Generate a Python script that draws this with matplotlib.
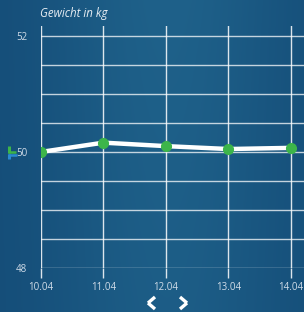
import numpy as np
import matplotlib
matplotlib.use("Agg")
import matplotlib.pyplot as plt
from matplotlib.lines import Line2D

categories = ["10.04", "11.04", "12.04", "13.04", "14.04"]
weights = [50.0, 50.16, 50.10, 50.05, 50.07]
y_ticks = [48, 50, 52]
y_grid = [48, 48.5, 49, 49.5, 50, 50.5, 51, 51.5, 52]
title = "Gewicht in kg"

plt.rcParams['font.family'] = ['Open Sans', 'DejaVu Sans']

W, H = 304, 312
fig = plt.figure(figsize=(W / 100, H / 100), dpi=100)

# background gradient
bg = fig.add_axes([0, 0, 1, 1], zorder=-10)
xs = np.linspace(0, 1, 200)
ys = np.linspace(0, 1, 200)
X, Y = np.meshgrid(xs, ys)
c_dark = np.array([0.08, 0.30, 0.47])
c_light = np.array([0.12, 0.38, 0.54])
t = np.exp(-((X - 0.55) ** 2) / 0.15) * (0.8 + 0.2 * (1 - Y))
img = c_dark[None, None, :] + (c_light - c_dark)[None, None, :] * t[:, :, None]
bg.imshow(img, extent=[0, 1, 0, 1], aspect='auto', origin='upper')
bg.set_axis_off()

ax = fig.add_axes([41 / W, 44 / H, 1 - 41 / W, (268 - 26) / H])
ax.patch.set_alpha(0)
x = np.arange(len(categories))
ax.set_xlim(0, 4.21)
ax.set_ylim(48, 52.17)

for yy in y_grid:
    ax.axhline(yy, color='white', alpha=0.75, lw=1.0, zorder=1)
for xx in x:
    ax.axvline(xx, color='white', alpha=0.85, lw=1.0, zorder=1)

ax.plot(x, weights, color='white', lw=3.2, zorder=3, solid_capstyle='round')
ax.plot(x, weights, 'o', color='#3db54a', ms=7, mec='#3db54a', zorder=4)

ax.set_xticks(x)
ax.set_xticklabels(categories, color='#d0dce8', fontsize=7)
ax.set_yticks(y_ticks)
ax.set_yticklabels([str(v) for v in y_ticks], color='#d0dce8', fontsize=7)
ax.tick_params(axis='x', length=7, width=1, color=(1, 1, 1, 0.85), pad=3)
ax.tick_params(axis='y', length=0, pad=10)
for s in ax.spines.values():
    s.set_visible(False)

fig.text(40 / W, 1 - 13 / H, title, color='#e8eef4', fontsize=8.3,
         style='italic', va='center', ha='left')

# small legend icon near 50
def fline(x0, y0, x1, y1, c, lw=2):
    fig.add_artist(Line2D([x0 / W, x1 / W], [1 - y0 / H, 1 - y1 / H],
                          color=c, lw=lw, solid_capstyle='butt'))

fline(8.5, 146, 8.5, 153, '#3db54a', 2.2)
fline(8, 152, 16, 152, '#3db54a', 1.8)
fline(8.5, 154, 8.5, 159, '#2a8ad0', 2.2)
fline(8, 155, 17, 155, '#2a8ad0', 1.8)

# navigation chevrons
fline(155, 297, 148, 303, 'white', 2.4)
fline(148, 303, 155, 309, 'white', 2.4)
fline(180, 297, 187, 303, 'white', 2.4)
fline(187, 303, 180, 309, 'white', 2.4)

fig.savefig('out.png', dpi=100)
